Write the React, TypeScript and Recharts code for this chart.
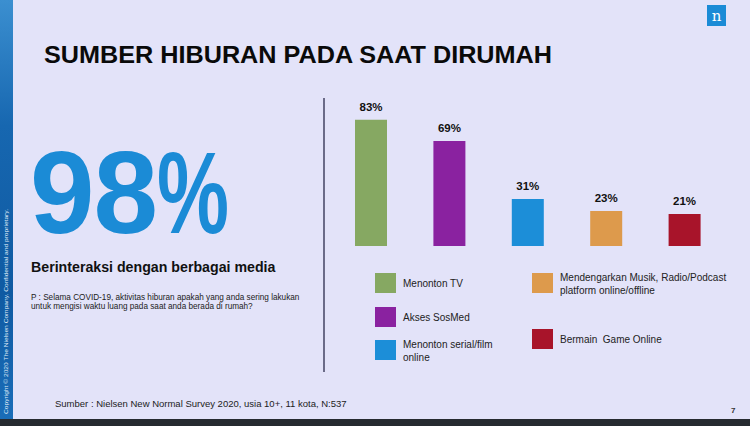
import { Bar, BarChart, Cell, LabelList, XAxis, YAxis } from "recharts";

const categories = [
  "Menonton TV",
  "Akses SosMed",
  "Menonton serial/film online",
  "Mendengarkan Musik, Radio/Podcast platform online/offline",
  "Bermain  Game Online",
];
const shares = [83, 69, 31, 23, 21];
const barColors = ["#86a862", "#8a22a0", "#1c8ed8", "#dd9a4c", "#a8142a"];

const chartData = categories.map((name, i) => ({ name, value: shares[i] }));

const font = "'Liberation Sans', Arial, sans-serif";

// legend entries: [index, left, top, lines]
const legendItems: { idx: number; x: number; y: number; lines: string[] }[] = [
  { idx: 0, x: 375, y: 273, lines: ["Menonton TV"] },
  { idx: 1, x: 375, y: 307, lines: ["Akses SosMed"] },
  { idx: 2, x: 375, y: 340, lines: ["Menonton serial/film", "online"] },
  { idx: 3, x: 532, y: 273, lines: ["Mendengarkan Musik, Radio/Podcast", "platform online/offline"] },
  { idx: 4, x: 532, y: 329, lines: ["Bermain  Game Online"] },
];

export default function App() {
  return (
    <div
      style={{
        position: "absolute",
        left: 0,
        top: 0,
        width: 750,
        height: 426,
        background: "#e3e3f9",
        overflow: "hidden",
        fontFamily: font,
      }}
    >
      {/* left brand strip */}
      <div
        style={{
          position: "absolute",
          left: 0,
          top: 0,
          width: 13,
          height: 419,
          background: "linear-gradient(180deg, #3b8fd0 0%, #1767b0 30%, #0f5aa2 70%, #1a6db8 100%)",
        }}
      />
      <svg width={750} height={426} style={{ position: "absolute", left: 0, top: 0 }}>
        <text
          transform="translate(8,414) rotate(-90)"
          fontSize={5.2}
          fill="#dfe9f7"
          fontFamily={font}
          textLength={205}
          lengthAdjust="spacingAndGlyphs"
        >
          Copyright © 2020 The Nielsen Company. Confidential and proprietary.
        </text>
        <text
          x={44}
          y={63}
          fontSize={23}
          fontWeight={700}
          fill="#0a0a0a"
          fontFamily={font}
          textLength={508}
          lengthAdjust="spacingAndGlyphs"
        >
          SUMBER HIBURAN PADA SAAT DIRUMAH
        </text>
        <text x={30} y={233} fontSize={116} fontWeight={700} fill="#1b8bd6" fontFamily={font} letterSpacing={-1}>
          98
        </text>
        <text
          x={157}
          y={233}
          fontSize={116}
          fontWeight={700}
          fill="#1b8bd6"
          fontFamily={font}
          textLength={72}
          lengthAdjust="spacingAndGlyphs"
        >
          %
        </text>
        <text x={31} y={272} fontSize={14.2} fontWeight={700} fill="#111" fontFamily={font}>
          Berinteraksi dengan berbagai media
        </text>
        <text x={31} y={300} fontSize={8.2} fill="#222" fontFamily={font}>
          P : Selama COVID-19, aktivitas hiburan apakah yang anda sering lakukan
        </text>
        <text x={31} y={309} fontSize={8.2} fill="#222" fontFamily={font}>
          untuk mengisi waktu luang pada saat anda berada di rumah?
        </text>
        <line x1={324} y1={98} x2={324} y2={372} stroke="#6b6b88" strokeWidth={2} />
        {legendItems.map((it) => (
          <g key={it.idx}>
            <rect x={it.x} y={it.y} width={21} height={20} fill={barColors[it.idx]} />
            {it.lines.map((ln, j) => (
              <text
                key={j}
                x={it.x + 28}
                y={it.lines.length === 1 ? it.y + 14 : it.y + 8 + j * 13}
                fontSize={10}
                fill="#222"
                fontFamily={font}
                style={{ whiteSpace: "pre" }}
              >
                {ln}
              </text>
            ))}
          </g>
        ))}
        <text x={55} y={407} fontSize={9.5} fill="#222" fontFamily={font}>
          Sumber : Nielsen New Normal Survey 2020, usia 10+, 11 kota, N:537
        </text>
        <text x={731} y={413} fontSize={8} fontWeight={700} fill="#333" fontFamily={font}>
          7
        </text>
        <rect x={707} y={5} width={19} height={21} fill="#1b8bd6" />
        <text x={716.5} y={21} fontSize={15} fill="#fff" textAnchor="middle" fontFamily="'DejaVu Serif', serif">
          n
        </text>
        <rect x={0} y={419} width={750} height={7} fill="#262a30" />
      </svg>

      <div style={{ position: "absolute", left: 332, top: 80 }}>
        <BarChart
          width={392}
          height={180}
          data={chartData}
          margin={{ top: 14, right: 0, bottom: 14, left: 0 }}
        >
          <XAxis dataKey="name" hide />
          <YAxis domain={[0, 100]} hide />
          <Bar dataKey="value" barSize={32} isAnimationActive={false}>
            {chartData.map((_, i) => (
              <Cell key={`c-${i}`} fill={barColors[i]} />
            ))}
            <LabelList
              dataKey="value"
              position="top"
              offset={9}
              formatter={(v: any) => `${v}%`}
              fill="#111"
              fontSize={11.5}
              fontWeight={700}
              fontFamily={font}
            />
          </Bar>
        </BarChart>
      </div>
    </div>
  );
}
